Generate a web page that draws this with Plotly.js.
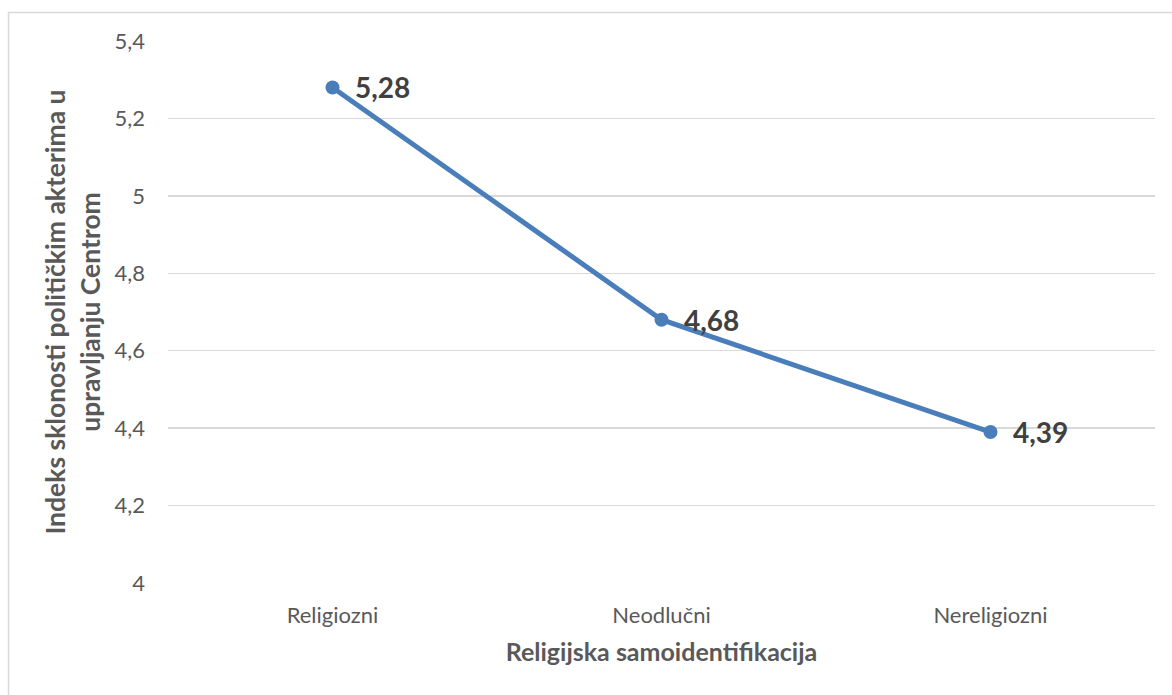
<!DOCTYPE html>
<html>
<head>
<meta charset="utf-8">
<script src="https://cdn.plot.ly/plotly-3.0.1.min.js"></script>
<style>
html,body{margin:0;padding:0;background:#fff;}
#chart{width:1172px;height:695px;}
</style>
</head>
<body>
<div id="chart"></div>
<script>
const categories = ["Religiozni", "Neodlučni", "Nereligiozni"];
const values = [5.28, 4.68, 4.39];
const valueLabels = ["5,28", "4,68", "4,39"];
const yTickVals = [4, 4.2, 4.4, 4.6, 4.8, 5, 5.2, 5.4];
const yTickText = ["4", "4,2", "4,4", "4,6", "4,8", "5", "5,2", "5,4"];

const L = 168, R = 17, T = 41, B = 111.5;
const W = 1172, H = 695;
const pw = W - L - R, ph = H - T - B;
const px = x => (x - L) / pw;
const py = y => (H - B - y) / ph;

const trace = {
  x: categories,
  y: values,
  type: 'scatter',
  mode: 'lines+markers',
  line: {color: '#4a7ebb', width: 5},
  marker: {color: '#4a7ebb', size: 14},
  cliponaxis: false,
  hoverinfo: 'none'
};

const annotations = categories.map((c, i) => ({
  x: c, y: values[i], xref: 'x', yref: 'y',
  text: valueLabels[i], showarrow: false,
  xanchor: 'left', yanchor: 'middle', xshift: 20,
  font: {family: 'Lato, sans-serif', size: 28, color: '#404040', weight: 'bold'}
}));

const layout = {
  width: W, height: H,
  margin: {l: L, r: R, t: T, b: B},
  paper_bgcolor: '#ffffff',
  plot_bgcolor: '#ffffff',
  showlegend: false,
  font: {family: 'Lato, sans-serif', color: '#595959'},
  xaxis: {
    type: 'category',
    range: [-0.5, 2.5],
    showgrid: false,
    zeroline: false,
    showline: false,
    ticks: '',
    ticklabelstandoff: 17,
    tickfont: {size: 22, color: '#595959'},
    title: {text: 'Religijska samoidentifikacija', font: {size: 25, color: '#595959', weight: 'bold'}, standoff: 16}
  },
  yaxis: {
    range: [4, 5.4],
    tickvals: yTickVals,
    ticktext: yTickText,
    showgrid: true,
    gridcolor: '#d9d9d9',
    gridwidth: 1.5,
    zeroline: false,
    showline: false,
    ticks: '',
    ticklabelstandoff: 22,
    tickfont: {size: 22, color: '#595959'},
    title: {text: 'Indeks sklonosti političkim akterima u<br>upravljanju Centrom', font: {size: 26.5, color: '#595959', weight: 'bold'}, standoff: 6}
  },
  annotations: annotations,
  shapes: [{
    type: 'rect', xref: 'paper', yref: 'paper',
    x0: px(8.5), x1: px(1185), y0: py(710), y1: py(12.5),
    line: {color: '#d9d9d9', width: 1.5},
    fillcolor: 'rgba(0,0,0,0)', layer: 'below'
  }]
};

Plotly.newPlot('chart', [trace], layout, {displayModeBar: false, staticPlot: true});
</script>
</body>
</html>
